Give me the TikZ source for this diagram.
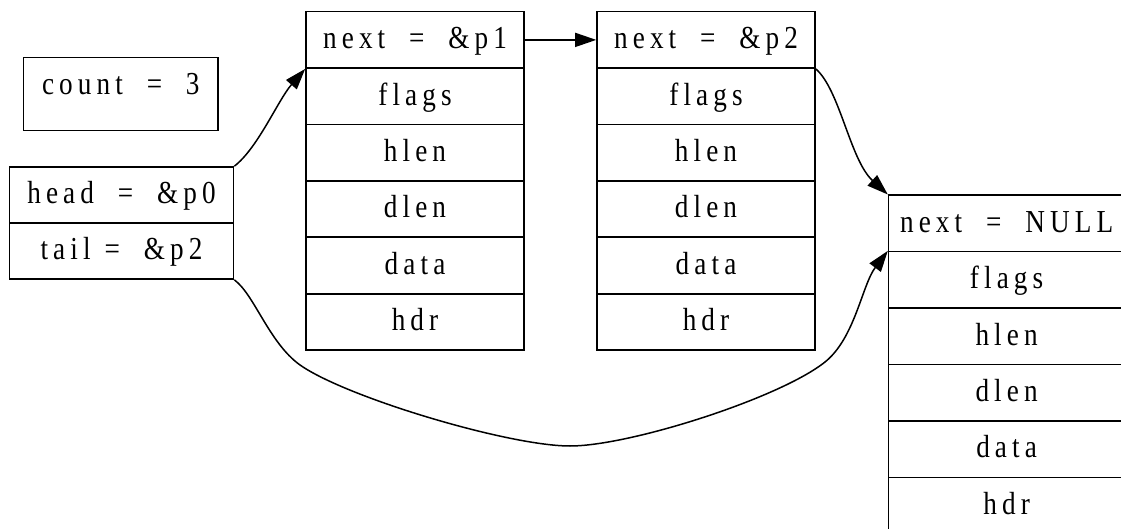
\documentclass[tikz,border=0pt]{standalone}
\usepackage{fontspec}
\newfontfamily\gvfont[FakeStretch=0.85,LetterSpace=16,WordSpace=2]{Liberation Serif}
\usetikzlibrary{arrows.meta}
\begin{document}
\begin{tikzpicture}[x=1pt,y=-1pt,
  txt/.style={inner sep=0pt, text height=17.6pt, text depth=0pt, font=\gvfont\fontsize{32}{36}\selectfont},
  fld/.style={txt, draw, line width=1.6pt, minimum height=56.4pt},
  f1/.style={fld, minimum width=218pt},
  f3/.style={fld, minimum width=236pt},
  conn/.style={line width=1.5pt, -{Triangle[length=21pt,width=14pt]}}]
\useasboundingbox (0,0) rectangle (1121,529);
% count
\node[fld, minimum width=194.4pt, minimum height=73pt] (count) at (120.8,94.2) {};
\node[txt] (countlbl) at (120.8,86.2) {count = 3};
% head / tail
\node[fld, minimum width=224pt, minimum height=56pt] (head) at (121.5,195) {head = \&p0};
\node[fld, minimum width=224pt, minimum height=56pt] (tail) at (121.5,251) {tail\kern14pt= \&p2};
% p1
\node[f1] (p1next)  at (415,39.9)  {next = \&p1};
\node[f1] (p1flags) at (415,96.3)  {flags};
\node[f1] (p1hlen)  at (415,152.7) {hlen};
\node[f1] (p1dlen)  at (415,209.1) {dlen};
\node[f1] (p1data)  at (415,265.5) {data};
\node[f1] (p1hdr)   at (415,321.9) {hdr};
% p2
\node[f1] (p2next)  at (706,39.9)  {next = \&p2};
\node[f1] (p2flags) at (706,96.3)  {flags};
\node[f1] (p2hlen)  at (706,152.7) {hlen};
\node[f1] (p2dlen)  at (706,209.1) {dlen};
\node[f1] (p2data)  at (706,265.5) {data};
\node[f1] (p2hdr)   at (706,321.9) {hdr};
% p3
\node[f3] (p3next)  at (1006.6,223.5) {next = NULL};
\node[f3] (p3flags) at (1006.6,279.9) {flags};
\node[f3] (p3hlen)  at (1006.6,336.3) {hlen};
\node[f3] (p3dlen)  at (1006.6,392.7) {dlen};
\node[f3] (p3data)  at (1006.6,449.1) {data};
\node[f3] (p3hdr)   at (1006.6,505.5) {hdr};
% connectors
\draw[conn] (head.north east) .. controls (258,148) and (278,100) .. (p1next.south west);
\draw[conn] (p1next.east) -- (p2next.west);
\draw[conn] (p2next.south east) .. controls (840,90) and (850,160) .. (p3next.north west);
\draw[conn] (tail.south east) .. controls (255,295) and (270,346) .. (303,367)
  .. controls (353,399.5) and (510,446) .. (570,446)
  .. controls (630,446) and (780,398) .. (825,362)
  .. controls (855,338) and (862,285) .. (p3flags.north west);
\end{tikzpicture}
\end{document}
